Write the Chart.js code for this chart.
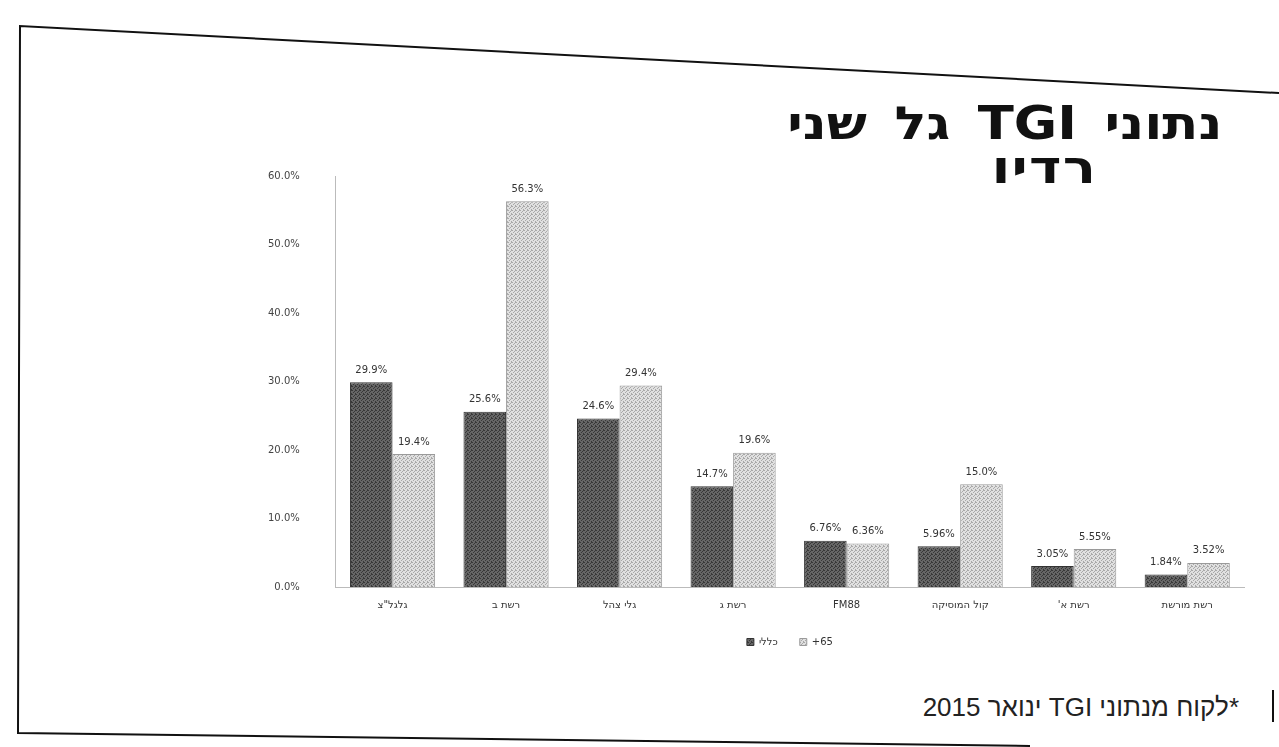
<!DOCTYPE html>
<html lang="he">
<head>
<meta charset="utf-8">
<title>נתוני TGI גל שני - רדיו</title>
<script src="https://cdn.jsdelivr.net/npm/chart.js@4.4.1/dist/chart.umd.min.js"></script>
<style>
  html, body { margin: 0; padding: 0; background: #fff; }
  body { width: 1279px; height: 747px; position: relative; overflow: hidden; }
  #frame { position: absolute; left: 0; top: 0; }
  .title { position: absolute; font-family: "DejaVu Sans", sans-serif; font-weight: bold; color: #111; direction: rtl; white-space: nowrap; transform-origin: right center; }
  #title1 { right: 57px; top: 96px; font-size: 46px; word-spacing: 8px; transform: scaleX(1.15); }
  #title2 { right: 182px; top: 140px; font-size: 46px; letter-spacing: 1px; transform: scaleX(1.2); }
  #note { position: absolute; right: 40px; top: 692px; font-family: "Liberation Sans", sans-serif; font-size: 26px; color: #222; direction: rtl; white-space: nowrap; }
  #chart-box { position: absolute; left: 240px; top: 142px; width: 1010px; height: 515px; }
  canvas { direction: rtl; }
</style>
</head>
<body>
<svg id="frame" width="1279" height="747">
  <polyline points="1279,93 20,26 18,733 1030,746" fill="none" stroke="#111" stroke-width="2"/>
  <line x1="1273" y1="690" x2="1273" y2="722" stroke="#111" stroke-width="2"/>
</svg>

<div class="title" id="title1">נתוני TGI גל שני</div>
<div class="title" id="title2">רדיו</div>

<div id="chart-box"><canvas id="radio-chart"></canvas></div>

<div id="note">*לקוח מנתוני TGI ינואר 2015</div>

<script>
// --- datos ---
const stations = ['גלגל"צ', 'רשת ב', 'גלי צהל', 'רשת ג', 'FM88', 'קול המוסיקה', "רשת א'", 'רשת מורשת'];
const generalValues = [29.9, 25.6, 24.6, 14.7, 6.76, 5.96, 3.05, 1.84];
const age65Values = [19.4, 56.3, 29.4, 19.6, 6.36, 15.0, 5.55, 3.52];
const seriesNames = ['כללי', '65+'];
const yTicks = [0, 10, 20, 30, 40, 50, 60];

// textura tipo "scan" para las barras
const makePattern = (base, dot) => {
    const c = document.createElement('canvas');
    c.width = 4; c.height = 4;
    const g = c.getContext('2d');
    g.fillStyle = base;
    g.fillRect(0, 0, 4, 4);
    g.fillStyle = dot;
    [[0, 0], [2, 1], [1, 2], [3, 3], [3, 0]].forEach(([x, y]) => g.fillRect(x, y, 1, 1));
    return g.createPattern(c, 'repeat');
};

// etiquetas encima de cada barra
const valueLabels = {
    id: 'valueLabels',
    afterDatasetsDraw(chart) {
        const { ctx } = chart;
        ctx.save();
        ctx.font = '10px "DejaVu Sans", sans-serif';
        ctx.fillStyle = '#333';
        ctx.textAlign = 'center';
        ctx.textBaseline = 'bottom';
        chart.data.datasets.forEach((ds, i) => {
            chart.getDatasetMeta(i).data.forEach((bar, j) => {
                ctx.fillText(ds.data[j].toPrecision(3) + '%', bar.x, bar.y - 7);
            });
        });
        ctx.restore();
    }
};

const renderChart = () => {
    const canvas = document.querySelector('#radio-chart');
    new Chart(canvas, {
        type: 'bar',
        data: {
            labels: stations,
            datasets: [{
                label: seriesNames[0],
                data: generalValues,
                backgroundColor: makePattern('#666666', '#383838'),
                borderColor: '#333',
                borderWidth: 1,
                categoryPercentage: 0.75,
                barPercentage: 1.0
            }, {
                label: seriesNames[1],
                data: age65Values,
                backgroundColor: makePattern('#e0e0e0', '#a8a8a8'),
                borderColor: '#9a9a9a',
                borderWidth: 1,
                borderDash: [2, 2],
                categoryPercentage: 0.75,
                barPercentage: 1.0
            }]
        },
        options: {
            responsive: true,
            maintainAspectRatio: false,
            animation: false,
            layout: { padding: { top: 8, right: 6, left: 0, bottom: 0 } },
            scales: {
                x: {
                    grid: { display: false },
                    border: { color: '#bbb', dash: [2, 3] },
                    ticks: { color: '#333', font: { family: 'DejaVu Sans', size: 10 }, padding: 4 }
                },
                y: {
                    min: 0,
                    max: 60,
                    afterBuildTicks: (axis) => { axis.ticks = yTicks.map(v => ({ value: v })); },
                    grid: { display: false },
                    border: { color: '#bbb', dash: [2, 3] },
                    ticks: {
                        color: '#444',
                        font: { family: 'DejaVu Sans', size: 10 },
                        padding: 28,
                        callback: (v) => v.toFixed(1) + '%'
                    }
                }
            },
            plugins: {
                legend: {
                    position: 'bottom',
                    fullSize: false,
                    textDirection: 'rtl',
                    labels: {
                        boxWidth: 7,
                        boxHeight: 7,
                        color: '#333',
                        font: { family: 'DejaVu Sans', size: 10 },
                        padding: 22
                    }
                },
                tooltip: { enabled: false }
            }
        },
        plugins: [valueLabels]
    });
};

document.addEventListener('DOMContentLoaded', renderChart);
</script>
</body>
</html>
